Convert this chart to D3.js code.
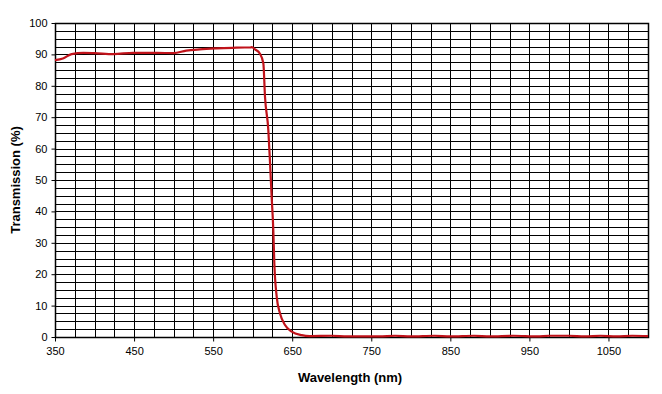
<!DOCTYPE html>
<html><head><meta charset="utf-8">
<script src="https://cdn.jsdelivr.net/npm/d3@7"></script>
<style>body{margin:0;background:#fff}svg{display:block}</style>
</head><body>
<script>
const wavelengths = [350,360,371,386,400,424,449,479,500,516,533,554,575,590,597,599,603,609,613.5,615.6,619.8,622,624,626.1,627.4,630.4,634.6,640.9,649.4,662,672,700,720,760,780,800,830,850,880,900,930,960,975,1000,1020,1040,1060,1080,1100];
const transmission = [88.2,88.7,90.1,90.5,90.4,90.1,90.5,90.5,90.4,91.2,91.6,91.9,92.1,92.2,92.2,92.3,91.6,90.3,87.2,76.5,65.9,55.3,44.7,34.1,23.5,12.8,7.5,3.8,1.7,0.6,0.3,0.4,0.2,0.2,0.4,0.2,0.4,0.2,0.4,0.2,0.4,0.2,0.4,0.4,0.2,0.4,0.2,0.4,0.3];
const xTicks = [350,450,550,650,750,850,950,1050];
const yTicks = [0,10,20,30,40,50,60,70,80,90,100];
const xLabel = "Wavelength (nm)";
const yLabel = "Transmission (%)";

const W=662,H=394, L=55,R=648,T=23,B=337;
const svg=d3.select("body").append("svg").attr("width",W).attr("height",H);
const x=d3.scaleLinear().domain([350,1100]).range([L,R]);
const y=d3.scaleLinear().domain([0,100]).range([B,T]);
const g=svg.append("g");
g.selectAll(".vg").data(d3.range(350,1101,25)).join("line")
 .attr("x1",d=>Math.round(x(d))+0.5).attr("x2",d=>Math.round(x(d))+0.5).attr("y1",T).attr("y2",B)
 .attr("stroke","#000").attr("stroke-width",1);
g.selectAll(".hg").data(d3.range(0,100.1,2.5)).join("line")
 .attr("y1",d=>Math.round(y(d))+0.5).attr("y2",d=>Math.round(y(d))+0.5).attr("x1",L).attr("x2",R)
 .attr("stroke","#000").attr("stroke-width",1);
g.append("rect").attr("x",L+0.5).attr("y",T+0.5).attr("width",R-L).attr("height",B-T)
 .attr("fill","none").attr("stroke","#000").attr("stroke-width",1.5);
const xa=svg.append("g").attr("transform",`translate(0,${B+0.5})`)
 .call(d3.axisBottom(x).tickValues(xTicks).tickSize(4).tickPadding(6).tickFormat(d3.format("d")));
const ya=svg.append("g").attr("transform",`translate(${L+0.5},0)`)
 .call(d3.axisLeft(y).tickValues(yTicks).tickSize(4).tickPadding(4));
[xa,ya].forEach(a=>{a.select(".domain").remove();a.selectAll("line").attr("stroke","#000");
 a.selectAll("text").attr("font-family","Liberation Sans, Arial, sans-serif").attr("font-size",11).attr("fill","#000");});
const line=d3.line().x((d,i)=>x(wavelengths[i])).y(d=>y(d)).curve(d3.curveMonotoneX);
svg.append("path").datum(transmission).attr("d",line).attr("fill","none")
 .attr("stroke","#c0121a").attr("stroke-width",2.2).attr("stroke-linejoin","round");
svg.append("text").attr("x",350).attr("y",382).attr("text-anchor","middle")
 .attr("font-family","Liberation Sans, Arial, sans-serif").attr("font-weight","bold").attr("font-size",13).text(xLabel);
svg.append("text").attr("transform",`translate(20,${(T+B)/2}) rotate(-90)`).attr("text-anchor","middle")
 .attr("font-family","Liberation Sans, Arial, sans-serif").attr("font-weight","bold").attr("font-size",13).text(yLabel);
</script>
</body></html>
